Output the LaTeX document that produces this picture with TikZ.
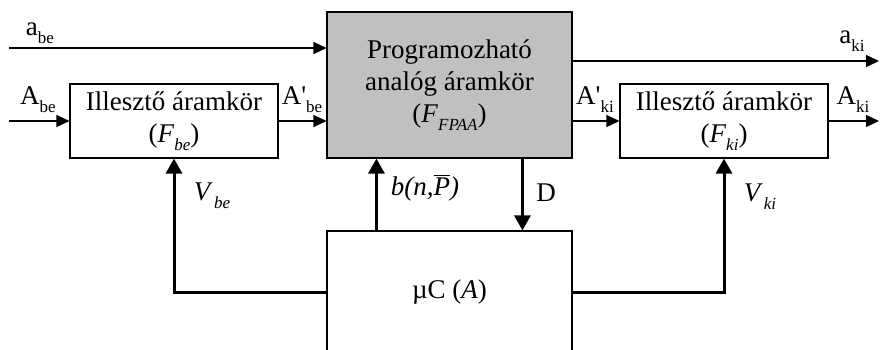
\documentclass[tikz,border=0pt]{standalone}
\usepackage{fontspec}
\setmainfont{Liberation Serif}
\usetikzlibrary{arrows.meta,calc}
\newcommand{\sbs}[1]{\raisebox{-0.3em}{\fontsize{17}{17}\selectfont #1}}
\newcommand{\ovl}[1]{\leavevmode\vbox{\hrule height 1pt\kern 1.5pt\hbox{#1}}}
\begin{document}
\begin{tikzpicture}[x=1pt,y=-1pt,
  font=\fontsize{27}{32}\selectfont,
  box/.style={draw, line width=1.1pt, inner sep=0pt, align=center},
  lbl/.style={inner sep=0pt},
  thinarr/.style={line width=1.3pt, -{Triangle[length=13pt,width=12pt]}},
  thickarr/.style={line width=3pt, -{Triangle[length=15pt,width=16pt]}}]
\path[use as bounding box, clip] (0,0) rectangle (880,349);

\node[box, fill={rgb,255:red,192;green,192;blue,192}, minimum width=245pt, minimum height=146pt] (fpaa) at (449.5,85)
  {Programozható\\analóg áramkör\\(\textit{F}\sbs{\textit{FPAA}})};
\node[box, minimum width=208pt, minimum height=74pt] (ilbe) at (174,121)
  {Illesztő áramkör\\(\textit{F}\sbs{\textit{be}})};
\node[box, minimum width=208pt, minimum height=74pt] (ilki) at (724,121)
  {Illesztő áramkör\\(\textit{F}\sbs{\textit{ki}})};
\node[box, minimum width=245pt, minimum height=122pt] (mc) at (449.5,292)
  {µC (\textit{A})};

\coordinate (abein) at (9,48);
\coordinate (Abein) at (9,121);
\coordinate (akiout) at (879,61);
\coordinate (Akiout) at (879,121);

\draw[thinarr] (abein) -- (abein -| fpaa.west);
\draw[thinarr] (Abein) -- (ilbe.west);
\draw[thinarr] (ilbe.east) -- (ilbe.east -| fpaa.west);
\draw[thinarr] (akiout -| fpaa.east) -- (akiout);
\draw[thinarr] (ilki.west -| fpaa.east) -- (ilki.west);
\draw[thinarr] (ilki.east) -- (Akiout);

\draw[thickarr] (mc.west) -| (ilbe.south);
\draw[thickarr] (mc.east) -| (ilki.south);
\draw[thickarr] ($(mc.north west)+(50,0)$) -- ($(fpaa.south west)+(50,0)$);
\draw[thickarr] ($(fpaa.south west)+(196,0)$) -- ($(mc.north west)+(196,0)$);

\node[lbl] (labe) at (40,33) {a\sbs{be}};
\node[lbl] (lAbe) at (38,100) {A\sbs{be}};
\node[lbl] (lApbe) at (302,100) {A\textquotesingle\sbs{be}};
\node[lbl] (laki) at (852,41) {a\sbs{ki}};
\node[lbl] (lApki) at (595,100) {A\textquotesingle\sbs{ki}};
\node[lbl] (lAki) at (853,100) {A\sbs{ki}};
\node[lbl] (lVbe) at (212,196) {\textit{V}\kern1pt\sbs{\textit{be}}};
\node[lbl] (lb) at (425,188) {\textit{b(n,\ovl{P})}};
\node[lbl] (lD) at (546,193) {D};
\node[lbl] (lVki) at (760,197) {\textit{V}\kern1pt\sbs{\textit{ki}}};
\end{tikzpicture}
\end{document}
